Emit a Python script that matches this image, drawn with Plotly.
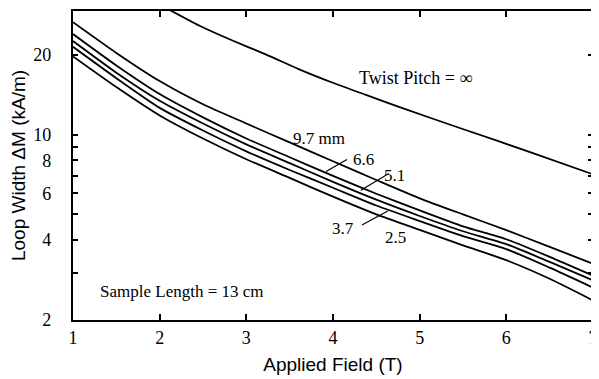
import numpy as np
import plotly.graph_objects as go

# ---- data ----
field = [1, 1.5, 2, 2.5, 3, 3.5, 4, 4.5, 5, 5.5, 6, 6.5, 7]
pitch_97 = [26.5, 20.3, 15.9, 13.0, 11.0, 9.34, 7.93, 6.74, 5.75, 5.00, 4.36, 3.77, 3.26]
pitch_66 = [23.9, 18.2, 14.2, 11.6, 9.66, 8.21, 6.98, 5.98, 5.18, 4.51, 4.03, 3.46, 2.94]
pitch_51 = [22.5, 17.1, 13.4, 11.0, 9.18, 7.80, 6.63, 5.68, 4.93, 4.32, 3.86, 3.31, 2.82]
pitch_37 = [21.4, 16.3, 12.6, 10.35, 8.64, 7.35, 6.30, 5.40, 4.72, 4.14, 3.70, 3.15, 2.65]
pitch_25 = [19.7, 15.1, 11.8, 9.66, 8.07, 6.86, 5.83, 5.00, 4.37, 3.82, 3.36, 2.86, 2.37]

field_inf = [2.12, 2.46, 2.84, 3.23, 3.61, 3.99, 4.38, 4.76, 5.53, 6.29, 7.0]
pitch_inf = [29.4, 25.7, 22.6, 20.0, 17.6, 15.7, 14.1, 12.7, 10.4, 8.55, 7.08]

x_ticks = [1, 2, 3, 4, 5, 6, 7]
y_ticks = [2, 3, 4, 5, 6, 7, 8, 9, 10, 20]
y_labels = ["2", "", "4", "", "6", "", "8", "", "10", "20"]

serif = "Liberation Serif, Times New Roman, serif"
sans = "Liberation Sans, Arial, sans-serif"

fig = go.Figure()
line = dict(color="black", width=1.8, shape="spline", smoothing=0.6)
for name, vals in [("9.7 mm", pitch_97), ("6.6", pitch_66), ("5.1", pitch_51),
                   ("3.7", pitch_37), ("2.5", pitch_25)]:
    fig.add_trace(go.Scatter(x=field, y=vals, mode="lines", line=line, name=name,
                             showlegend=False))
fig.add_trace(go.Scatter(x=field_inf, y=pitch_inf, mode="lines", line=line,
                         name="Twist Pitch = ∞", showlegend=False))

# page has an 8px body margin; figure is sized/margined to compensate
fig.update_layout(
    width=591, height=371,
    margin=dict(l=65, r=4, t=1, b=59),
    paper_bgcolor="white", plot_bgcolor="white",
    font=dict(family=serif, color="black", size=17),
)
fig.update_xaxes(
    range=[1, 7], tickvals=x_ticks, ticks="inside", ticklen=6, tickwidth=1.5,
    tickcolor="black", showline=True, linecolor="black", linewidth=2.2,
    mirror="ticks", showgrid=False, zeroline=False, ticklabeloverflow="allow",
    tickfont=dict(family=serif, size=18),
    title=dict(text="Applied Field (T)", font=dict(family=sans, size=19), standoff=11),
)
fig.update_yaxes(
    type="log", range=[np.log10(2), np.log10(29.2)],
    tickvals=y_ticks, ticktext=y_labels, ticks="inside", ticklen=5, tickwidth=1.5,
    tickcolor="black", showline=True, linecolor="black", linewidth=2.2,
    mirror="ticks", showgrid=False, zeroline=False, ticklabelstandoff=16,
    tickfont=dict(family=serif, size=18),
    title=dict(text="Loop Width ΔM (kA/m)", font=dict(family=sans, size=19), standoff=7),
)

def label(text, x, y, size=17):
    fig.add_annotation(text=text, x=x, y=y, xref="paper", yref="paper",
                       showarrow=False, font=dict(family=serif, size=size),
                       xanchor="center", yanchor="middle")

label("Twist Pitch = ∞", 0.659, 0.782, size=18)
label("9.7 mm", 0.473, 0.587)
label("6.6", 0.559, 0.521)
label("5.1", 0.619, 0.468)
label("3.7", 0.519, 0.296)
label("2.5", 0.621, 0.268)
label("Sample Length = 13 cm", 0.209, 0.093, size=17)

for x0, y0, x1, y1 in [(0.4866, 0.4808, 0.5268, 0.5192),
                       (0.5536, 0.4199, 0.6073, 0.4744),
                       (0.5556, 0.3077, 0.6054, 0.3526)]:
    fig.add_shape(type="line", xref="paper", yref="paper", x0=x0, y0=y0, x1=x1, y1=y1,
                  line=dict(color="black", width=1.2))

fig.write_html("out.html")
